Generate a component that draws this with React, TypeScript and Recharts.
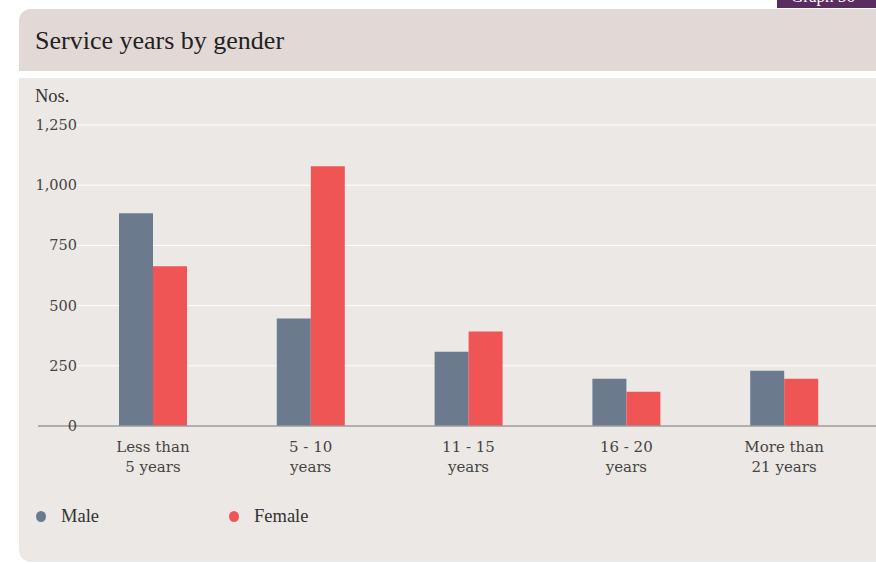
import React from "react";
import { BarChart, Bar, XAxis, YAxis, CartesianGrid, Legend } from "recharts";

const categories = ["Less than\n5 years", "5 - 10\nyears", "11 - 15\nyears", "16 - 20\nyears", "More than\n21 years"];
const male = [883, 446, 308, 196, 229];
const female = [663, 1079, 392, 142, 196];
const yTicks = [0, 250, 500, 750, 1000, 1250];
const seriesNames = ["Male", "Female"];
const seriesColors = ["#6b7a8c", "#f05556"];

const data = categories.map((c, i) => ({ cat: c, male: male[i], female: female[i] }));

const fmt = (v: number) => v.toLocaleString("en-US");

const YTick = (props: any) => {
  const { x, y, payload } = props;
  return (
    <g>
      {payload.value === 0 && <line x1={x - 36} x2={x} y1={y} y2={y} stroke="#9a9a9a" strokeWidth={1.5} />}
      <text x={x + 3} y={y} dy={5} textAnchor="end" fill="#444" fontFamily="DejaVu Serif" fontSize={14.5}>
        {fmt(payload.value)}
      </text>
    </g>
  );
};

const XTick = (props: any) => {
  const { x, y, payload } = props;
  const lines = String(payload.value).split("\n");
  return (
    <text x={x} y={y} textAnchor="middle" fill="#444" fontFamily="DejaVu Serif" fontSize={15}>
      {lines.map((l, i) => (
        <tspan key={i} x={x} dy={i === 0 ? 18 : 19.5}>{l}</tspan>
      ))}
    </text>
  );
};

const LegendContent = () => (
  <div style={{ display: "flex", fontFamily: "Liberation Serif", fontSize: 18.5, color: "#333" }}>
    {seriesNames.map((n, i) => (
      <div key={n} style={{ display: "flex", alignItems: "center", width: 193 }}>
        <span style={{ display: "inline-block", width: 10, height: 11, borderRadius: "50%", background: seriesColors[i], marginRight: 15 }} />
        <span>{n}</span>
      </div>
    ))}
  </div>
);

export default function App() {
  return (
    <div style={{ position: "absolute", left: 0, top: 0, width: 876, height: 564, overflow: "hidden", background: "#fff" }}>
      <div style={{ position: "absolute", left: 777, top: 0, width: 110, height: 8, background: "#5b2c5f", overflow: "hidden" }}>
        <div style={{ position: "absolute", left: 14, top: -13, color: "#fff", fontFamily: "Liberation Serif", fontSize: 17 }}>Graph 56</div>
      </div>
      <div style={{ position: "absolute", left: 19, top: 9, width: 900, height: 553, borderRadius: "12px 0 0 12px", overflow: "hidden", background: "#ece8e5" }}>
        <div style={{ position: "absolute", left: 0, top: 0, width: "100%", height: 62, background: "#e2d9d6" }} />
        <div style={{ position: "absolute", left: 0, top: 62, width: "100%", height: 7, background: "#fff" }} />
        <div style={{ position: "absolute", left: 16, top: 17, fontFamily: "Liberation Serif", fontSize: 26, color: "#222" }}>Service years by gender</div>
        <div style={{ position: "absolute", left: 16, top: 77, fontFamily: "Liberation Serif", fontSize: 18.5, color: "#333" }}>Nos.</div>
      </div>
      <div style={{ position: "absolute", left: 0, top: 0 }}>
        <BarChart
          width={900}
          height={540}
          data={data}
          margin={{ top: 125, right: 20, left: 0, bottom: 0 }}
          barCategoryGap={45}
          barGap={0}
        >
          <CartesianGrid vertical={false} stroke="#ffffff" strokeWidth={1} />
          <XAxis
            dataKey="cat"
            interval={0}
            tick={<XTick />}
            tickLine={false}
            axisLine={{ stroke: "#9a9a9a", strokeWidth: 1.5 }}
            height={93}
            padding={{ left: 0, right: 17 }}
          />
          <YAxis
            domain={[0, 1250]}
            ticks={yTicks}
            width={74}
            tick={<YTick />}
            tickLine={false}
            axisLine={false}
            tickSize={0}
            tickMargin={0}
            interval={0}
          />
          <Legend
            verticalAlign="bottom"
            align="left"
            content={<LegendContent />}
            wrapperStyle={{ position: "absolute", left: 36, top: 506, width: 500 }}
          />
          <Bar dataKey="male" name={seriesNames[0]} fill={seriesColors[0]} isAnimationActive={false} />
          <Bar dataKey="female" name={seriesNames[1]} fill={seriesColors[1]} isAnimationActive={false} />
        </BarChart>
      </div>
    </div>
  );
}
